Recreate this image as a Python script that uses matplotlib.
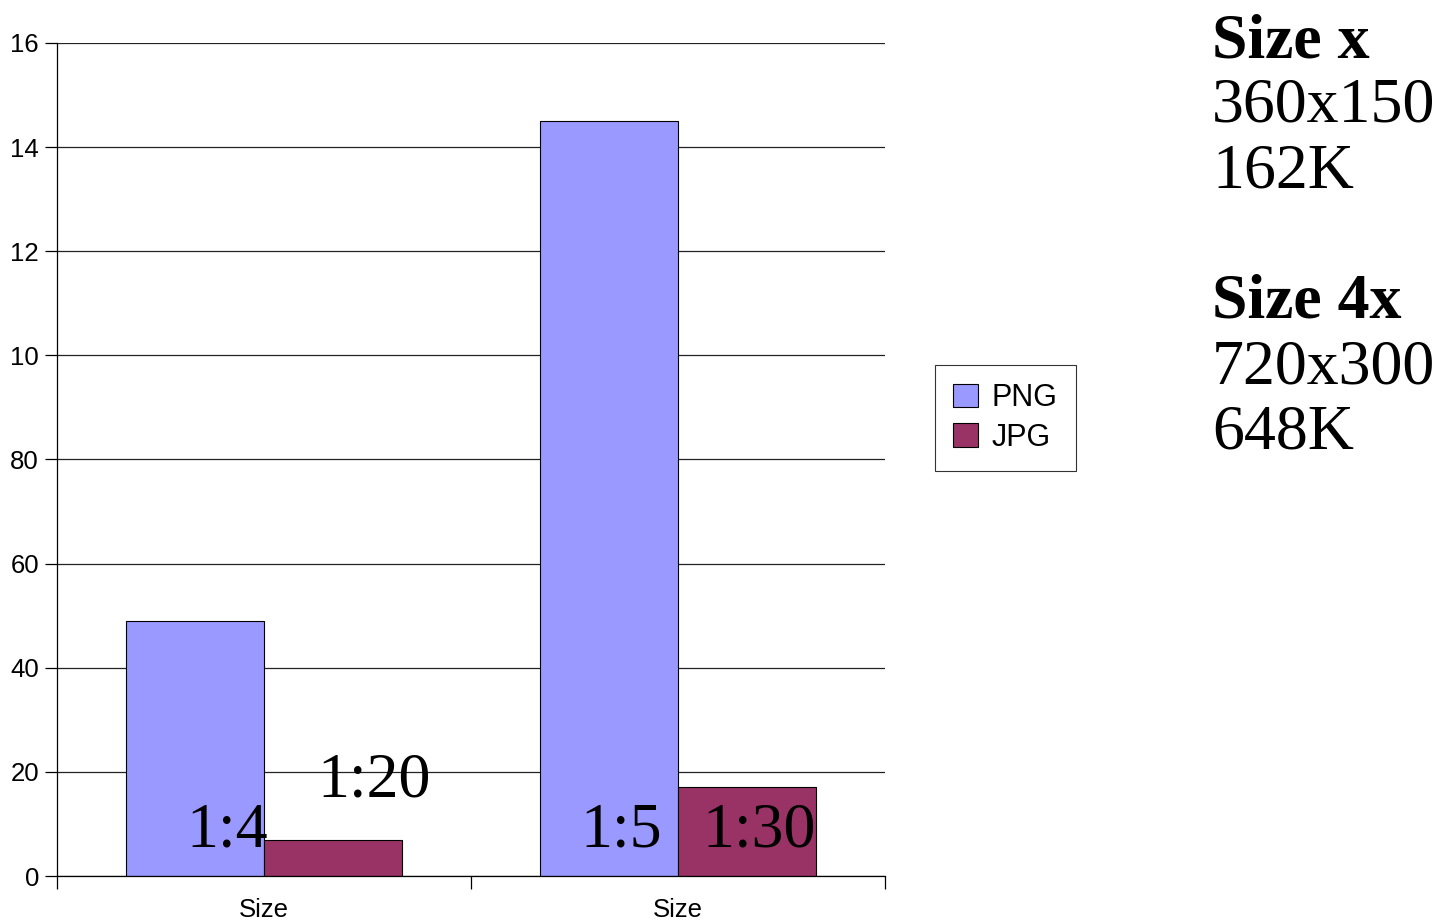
import numpy as np
import matplotlib.pyplot as plt

# data
categories = ['Size', 'Size']
png_values = [49, 145]
jpg_values = [7, 17]
series_names = ['PNG', 'JPG']
y_ticks = [0, 20, 40, 60, 80, 100, 120, 140, 160]
y_tick_labels = ['0', '20', '40', '60', '80', '10', '12', '14', '16']
ratio_png = ['1:4', '1:5']
ratio_jpg = ['1:20', '1:30']
side_lines = [('Size x', 'bold'), ('360x150', 'normal'), ('162K', 'normal'),
              ('Size 4x', 'bold'), ('720x300', 'normal'), ('648K', 'normal')]

plt.rcParams['font.family'] = ['Liberation Sans', 'DejaVu Sans']

fig = plt.figure(figsize=(14.41, 9.23), dpi=100)
ax = fig.add_axes([57 / 1441, 1 - 876 / 923, 828 / 1441, 833 / 923])

x = np.arange(len(categories))
w = 1 / 3
ax.bar(x - w / 2, png_values, w, color='#9999FF', edgecolor='black', linewidth=0.8,
       label=series_names[0], zorder=2)
ax.bar(x + w / 2, jpg_values, w, color='#993366', edgecolor='black', linewidth=0.8,
       label=series_names[1], zorder=2)

ax.set_xlim(-0.5, 1.5)
ax.set_ylim(0, 160)
ax.set_yticks(y_ticks)
ax.set_yticklabels(y_tick_labels, fontsize=18.5)
ax.yaxis.grid(True, color='#222222', linewidth=0.9, zorder=0)
ax.set_axisbelow(True)

# category boundaries get ticks, names sit in between
ax.set_xticks([-0.5, 0.5, 1.5])
ax.set_xticklabels([])
ax.set_xticks(x, minor=True)
ax.set_xticklabels(categories, minor=True, fontsize=18.5)
ax.tick_params(axis='x', which='minor', length=0, pad=16)
ax.tick_params(axis='x', which='major', length=9, width=0.9, direction='out')
ax.tick_params(axis='y', length=9, width=0.9, direction='out', pad=4)

for s in ['top', 'right']:
    ax.spines[s].set_visible(False)
ax.spines['left'].set_linewidth(0.9)
ax.spines['bottom'].set_linewidth(0.9)

# ratio labels
serif = ['Liberation Serif', 'DejaVu Serif']
ax.text(0.01, 5.6, ratio_png[0], ha='right', va='baseline', fontsize=46, family=serif, zorder=3)
ax.text(0.13, 15.2, ratio_jpg[0], ha='left', va='baseline', fontsize=46, family=serif, zorder=3)
ax.text(0.961, 5.6, ratio_png[1], ha='right', va='baseline', fontsize=46, family=serif, zorder=3)
ax.text(1.06, 5.6, ratio_jpg[1], ha='left', va='baseline', fontsize=46, family=serif, zorder=3)

leg = ax.legend(loc='upper left', bbox_to_anchor=(935 / 1441, 1 - 365 / 923),
                bbox_transform=fig.transFigure, borderaxespad=0, fontsize=22,
                frameon=True, fancybox=False, handlelength=0.8, handleheight=0.8,
                handletextpad=0.45, borderpad=0.6, labelspacing=0.3)
leg.get_frame().set_edgecolor('black')
leg.get_frame().set_linewidth(0.8)

# text on the right
baselines = [57, 122, 187, 318, 383, 449]
for (txt, wt), b in zip(side_lines, baselines):
    fig.text(1212 / 1441, 1 - b / 923, txt, ha='left', va='baseline',
             fontsize=46, fontweight=wt, family=serif)

fig.savefig('out.png', dpi=100)
